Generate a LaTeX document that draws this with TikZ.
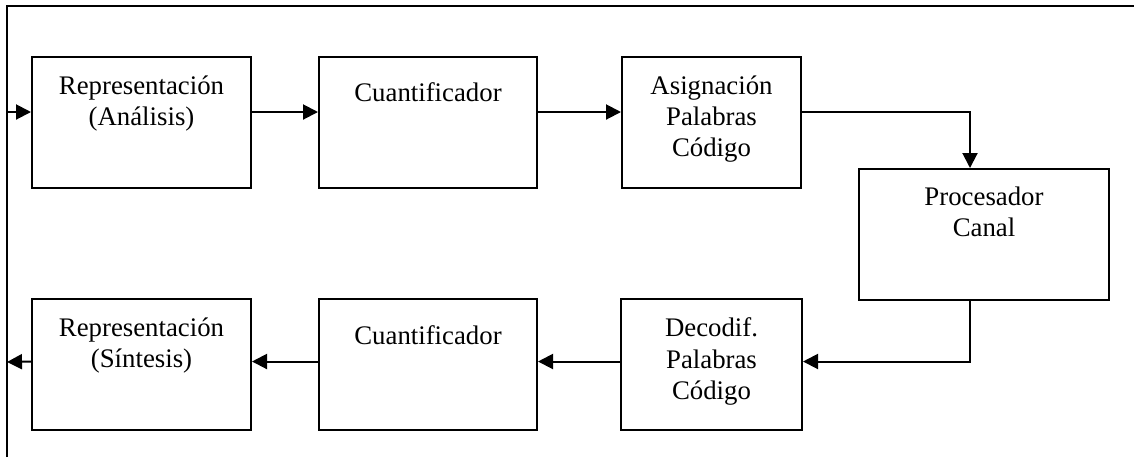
\documentclass[tikz,border=0pt]{standalone}
\usepackage{fontspec}
\setmainfont{Liberation Serif}
\usetikzlibrary{arrows.meta, positioning}

\begin{document}
\begin{tikzpicture}[
        x = 0.5pt, y = -0.5pt, % one unit per pixel of the sketch
        > = {Triangle[length=7.5pt, width=7.5pt]}, % arrow head style
        line width = 1pt % line style
    ]

    \tikzset{
        block/.style = {
            draw = black,
            line width = 1pt,
            minimum height = 65.5pt,
            inner sep = 0pt
        },
        caption/.style = {
            anchor = north,
            align = center,
            inner sep = 0pt,
            font = \fontsize{13.4}{15.6}\selectfont,
            execute at begin node = \rule{0pt}{13pt}
        }
    }

    \useasboundingbox (0,0) rectangle (1134,457);

    % frame
    \draw (7,457) -- (7,6) -- (1134,6);

    % upper row
    \node[block, minimum width = 109.5pt] (ana) at (141.5,122) {};
    \node[block, minimum width = 109pt] (cua) [right=33pt of ana] {};
    \node[block, minimum width = 89.5pt] (asig) [right=41.5pt of cua] {};
    \node[block, minimum width = 125pt] (proc) at (984,234.5) {};

    % lower row
    \node[block, minimum width = 109.5pt] (sin) at (141.5,364.5) {};
    \node[block, minimum width = 109pt] (cub) [right=33pt of sin] {};
    \node[block, minimum width = 90.5pt] (dec) [right=41pt of cub] {};

    \node[caption] (ana-t) at ([yshift=-9.5pt]ana.north) {Representación\\(Análisis)};
    \node[caption] (cua-t) at ([yshift=-9.5pt]cua.north) {Cuantificador};
    \node[caption] (asig-t) at ([yshift=-9.5pt]asig.north) {Asignación\\Palabras\\Código};
    \node[caption] (proc-t) at ([yshift=-9pt]proc.north) {Procesador\\Canal};
    \node[caption] (sin-t) at ([yshift=-9.5pt]sin.north) {Representación\\(Síntesis)};
    \node[caption] (cub-t) at ([yshift=-9.5pt]cub.north) {Cuantificador};
    \node[caption] (dec-t) at ([yshift=-9.5pt]dec.north) {Decodif.\\Palabras\\Código};

    \coordinate (in) at (7,112);
    \coordinate (out) at (7,362);
    \coordinate (bend) at (970,0);

    \draw[->] (in) -- (in -| ana.west);
    \draw[->] ([yshift=5pt]ana.east) -- ([yshift=5pt]cua.west);
    \draw[->] ([yshift=5pt]cua.east) -- ([yshift=5pt]asig.west);
    \draw[->] ([yshift=5pt]asig.east) -| (bend |- proc.north);
    \draw[->] (bend |- proc.south) |- ([yshift=1.5pt]dec.east);
    \draw[->] ([yshift=1.5pt]dec.west) -- ([yshift=1.5pt]cub.east);
    \draw[->] ([yshift=1.5pt]cub.west) -- ([yshift=1.5pt]sin.east);
    \draw[->] ([yshift=1.5pt]sin.west) -- (out);

\end{tikzpicture}
\end{document}
